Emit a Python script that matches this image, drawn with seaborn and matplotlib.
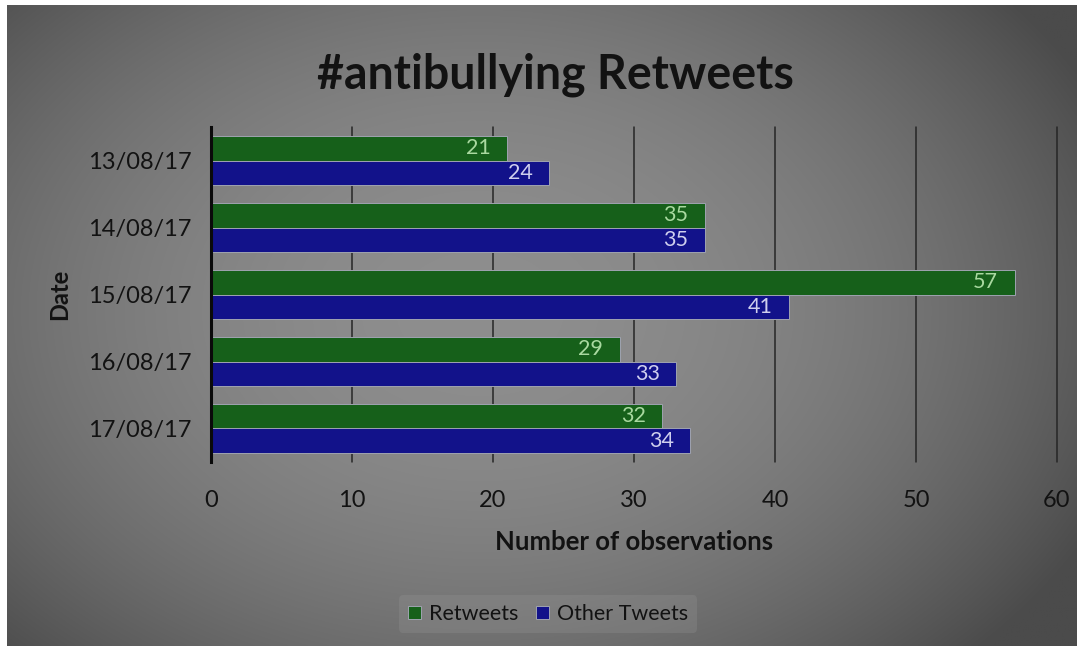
import numpy as np
import pandas as pd
import matplotlib
matplotlib.use("Agg")
import matplotlib.pyplot as plt
import seaborn as sns

# Data
dates = ["13/08/17", "14/08/17", "15/08/17", "16/08/17", "17/08/17"]
retweets = [21, 35, 57, 29, 32]
other_tweets = [24, 35, 41, 33, 34]
series_names = ["Retweets", "Other Tweets"]
x_ticks = [0, 10, 20, 30, 40, 50, 60]

df = pd.DataFrame({
    "Date": dates * 2,
    "Count": retweets + other_tweets,
    "Series": [series_names[0]] * len(dates) + [series_names[1]] * len(dates),
})

sns.set_theme(style="white")
plt.rcParams["font.family"] = ["Lato", "DejaVu Sans"]

W, H = 1077, 651
fig = plt.figure(figsize=(W / 100, H / 100), dpi=100)
fig.patch.set_facecolor("white")

# Grey vignette background panel
bg = fig.add_axes([0, 0, 1, 1], zorder=-10)
bg.set_xlim(0, W)
bg.set_ylim(0, H)
bg.axis("off")
xx, yy = np.meshgrid(np.linspace(7, W, 400), np.linspace(5, 646, 300))
r2 = ((xx - 480) / 640) ** 2 + ((yy - 340) / 460) ** 2
val = np.clip(142 - 58 * r2, 75, 150) / 255.0
img = np.dstack([val, val, val])
bg.imshow(img, extent=[7, W, 5, 646], origin="lower", aspect="auto", interpolation="bilinear")

# Plot area
ax = fig.add_axes([211 / W, 1 - 462 / H, (1057 - 211) / W, (462 - 127) / H])
ax.set_facecolor("none")

palette = {"Retweets": "#16601a", "Other Tweets": "#12128a"}
sns.barplot(data=df, x="Count", y="Date", hue="Series", orient="h",
            palette=palette, saturation=1, width=0.74, gap=0.0, ax=ax,
            edgecolor="#9fa3b0", linewidth=0.7, zorder=3, legend=True)

label_colors = ["#a9d9a0", "#cfcfee"]
for cont, lc in zip(ax.containers, label_colors):
    labels = ax.bar_label(cont, padding=-12, color=lc, fontsize=15.5)
    for t in labels:
        t.set_ha("right")

ax.set_xlim(0, 60)
ax.set_xticks(x_ticks)
ax.set_xticklabels([str(v) for v in x_ticks])
ax.grid(axis="x", color="#262626", linewidth=1.1, zorder=0)
for gl in ax.get_xgridlines():
    gl.set_clip_on(False)
ax.grid(axis="y", visible=False)
for s in ["top", "right", "bottom"]:
    ax.spines[s].set_visible(False)
ax.spines["left"].set_color("#0a0a0a")
ax.spines["left"].set_linewidth(2.2)
ax.spines["left"].set_zorder(5)
ax.tick_params(axis="both", length=0, labelsize=17, labelcolor="#121212")
ax.tick_params(axis="y", pad=14)
ax.tick_params(axis="x", pad=20)

ax.set_xlabel("Number of observations", fontsize=18.5, fontweight="bold",
              color="#121212", labelpad=14)
ax.set_ylabel("Date", fontsize=17, fontweight="bold", color="#121212", labelpad=12)

fig.text(555 / W, 1 - 75 / H, "#antibullying Retweets", ha="center", va="center",
         fontsize=33.5, fontweight="bold", color="#121212")

leg = ax.legend(loc="center", bbox_to_anchor=(548 / W, 1 - 614 / H), bbox_transform=fig.transFigure,
                ncol=2, frameon=True, fontsize=15.5, handlelength=0.6, handleheight=0.6,
                handletextpad=0.4, columnspacing=0.8, borderpad=0.4)
leg.get_frame().set_facecolor("#9a9a9a")
leg.get_frame().set_alpha(0.25)
leg.get_frame().set_edgecolor("none")
for t in leg.get_texts():
    t.set_color("#121212")

fig.savefig("out.png", dpi=100)
